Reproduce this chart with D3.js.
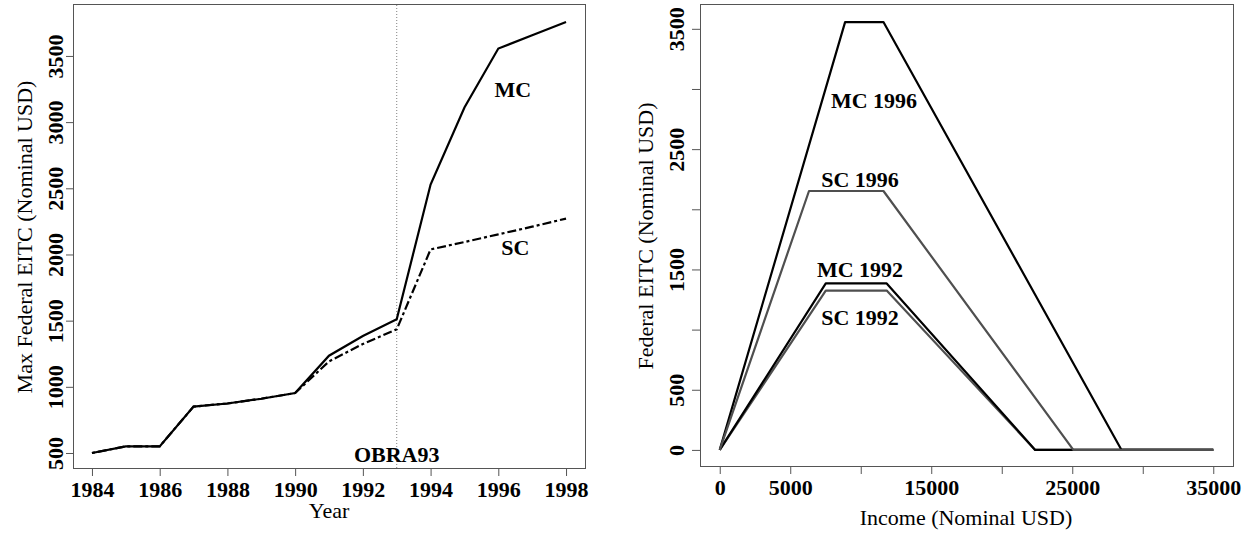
<!DOCTYPE html>
<html>
<head>
<meta charset="utf-8">
<script src="https://cdn.jsdelivr.net/npm/d3@7"></script>
<style>
  body { margin: 0; background: #fff; }
  svg text { font-family: "Liberation Serif", "Times New Roman", serif; fill: #000; }
  .tickLab { font-size: 22px; font-weight: bold; }
  .axTitle { font-size: 22px; }
  .note { font-size: 22px; font-weight: bold; }
</style>
</head>
<body>
<div id="chart"></div>
<script>
// Left panel: maximum credit by year
var years = [1984, 1985, 1986, 1987, 1988, 1989, 1990, 1991, 1992, 1993, 1994, 1995, 1996, 1997, 1998];
var mcMax = [500, 550, 550, 851, 874, 910, 953, 1235, 1384, 1511, 2528, 3110, 3556, 3656, 3756];
var scMax = [500, 550, 550, 851, 874, 910, 953, 1192, 1324, 1434, 2038, 2094, 2152, 2210, 2271];
var obraYear = 1993;
var yearTicks = [1984, 1986, 1988, 1990, 1992, 1994, 1996, 1998];
var leftYTicks = [500, 1000, 1500, 2000, 2500, 3000, 3500];

// Right panel: credit schedules (kink points)
var mc1996Income = [0, 8890, 11610, 28495, 35000];
var mc1996Credit = [0, 3556, 3556, 0, 0];
var sc1996Income = [0, 6330, 11610, 25078, 35000];
var sc1996Credit = [0, 2152, 2152, 0, 0];
var mc1992Income = [0, 7520, 11840, 22370, 35000];
var mc1992Credit = [0, 1384, 1384, 0, 0];
var sc1992Income = [0, 7520, 11840, 22370, 35000];
var sc1992Credit = [0, 1324, 1324, 0, 0];
var incomeTicks = [0, 5000, 10000, 15000, 20000, 25000, 30000, 35000];
var incomeLabels = [0, 5000, 15000, 25000, 35000];
var rightYTicks = [0, 500, 1000, 1500, 2000, 2500, 3000, 3500];
var rightYLabels = [0, 500, 1500, 2500, 3500];

var svg = d3.select("#chart")
  .append("svg")
  .attr("width", 1253)
  .attr("height", 533);

var black = "#000";
var grey = "#4f4f4f";

function zip(xs, ys) {
  return xs.map(function(x, i) { return [x, ys[i]]; });
}

// ---------- left panel ----------
var xL = d3.scaleLinear().domain([1983.44, 1998.56]).range([73, 585]);
var yL = d3.scaleLinear().domain([379, 3885]).range([469, 5]);

var lineL = d3.line().x(d => xL(d[0])).y(d => yL(d[1]));

svg.append("line")
  .attr("x1", xL(obraYear)).attr("x2", xL(obraYear))
  .attr("y1", 5).attr("y2", 469)
  .attr("stroke", "#808080")
  .attr("stroke-width", 1)
  .attr("stroke-dasharray", "1,2");

svg.append("path")
  .datum(zip(years, scMax))
  .attr("d", lineL)
  .attr("fill", "none")
  .attr("stroke", black)
  .attr("stroke-width", 2.2)
  .attr("stroke-dasharray", "3,3,9,3");

svg.append("path")
  .datum(zip(years, mcMax))
  .attr("d", lineL)
  .attr("fill", "none")
  .attr("stroke", black)
  .attr("stroke-width", 2.2);

svg.append("rect")
  .attr("x", 73.5).attr("y", 4.5)
  .attr("width", 512).attr("height", 464)
  .attr("fill", "none")
  .attr("stroke", "#555");

var xAxisL = svg.append("g")
  .attr("transform", "translate(0,469)")
  .call(d3.axisBottom(xL).tickValues(yearTicks).tickSize(7).tickSizeOuter(0).tickFormat(d3.format("d")));
styleAxis(xAxisL);
xAxisL.selectAll("text").attr("y", 28).attr("dy", 0);

var yAxisL = svg.append("g")
  .attr("transform", "translate(73,0)")
  .call(d3.axisLeft(yL).tickValues(leftYTicks).tickSize(7).tickSizeOuter(0).tickFormat(d3.format("d")));
styleAxis(yAxisL);
rotateLabels(yAxisL, -10);

svg.append("text").attr("class", "axTitle")
  .attr("x", 329).attr("y", 518)
  .attr("text-anchor", "middle")
  .text("Year");

svg.append("text").attr("class", "axTitle")
  .attr("transform", "translate(32,237) rotate(-90)")
  .attr("text-anchor", "middle")
  .text("Max Federal EITC (Nominal USD)");

var leftNotes = [
  { t: "MC", x: 1996.43, y: 3190 },
  { t: "SC", x: 1996.5, y: 1996 },
  { t: "OBRA93", x: 1993, y: 432 }
];
svg.selectAll(".noteL")
  .data(leftNotes)
  .enter()
  .append("text")
  .attr("class", "note")
  .attr("x", d => xL(d.x))
  .attr("y", d => yL(d.y))
  .attr("text-anchor", "middle")
  .text(d => d.t);

// ---------- right panel ----------
var xR = d3.scaleLinear().domain([-1400, 36400]).range([700, 1233]);
var yR = d3.scaleLinear().domain([-142, 3698]).range([467, 5]);

var lineR = d3.line().x(d => xR(d[0])).y(d => yR(d[1]));

var schedules = [
  { name: "SC 1992", pts: zip(sc1992Income, sc1992Credit), color: grey },
  { name: "MC 1992", pts: zip(mc1992Income, mc1992Credit), color: black },
  { name: "MC 1996", pts: zip(mc1996Income, mc1996Credit), color: black },
  { name: "SC 1996", pts: zip(sc1996Income, sc1996Credit), color: grey }
];

svg.selectAll(".sched")
  .data(schedules)
  .enter()
  .append("path")
  .attr("class", "sched")
  .attr("d", d => lineR(d.pts))
  .attr("fill", "none")
  .attr("stroke", d => d.color)
  .attr("stroke-width", 2.2)
  .attr("stroke-linejoin", "round");

svg.append("rect")
  .attr("x", 700.5).attr("y", 4.5)
  .attr("width", 533).attr("height", 462)
  .attr("fill", "none")
  .attr("stroke", "#555");

var xAxisR = svg.append("g")
  .attr("transform", "translate(0,467)")
  .call(d3.axisBottom(xR).tickValues(incomeTicks).tickSize(7).tickSizeOuter(0)
    .tickFormat(d => incomeLabels.indexOf(d) >= 0 ? d3.format("d")(d) : ""));
styleAxis(xAxisR);
xAxisR.selectAll("text").attr("y", 28).attr("dy", 0);

var yAxisR = svg.append("g")
  .attr("transform", "translate(700,0)")
  .call(d3.axisLeft(yR).tickValues(rightYTicks).tickSize(8).tickSizeOuter(0)
    .tickFormat(d => rightYLabels.indexOf(d) >= 0 ? d3.format("d")(d) : ""));
styleAxis(yAxisR);
rotateLabels(yAxisR, -16);

svg.append("text").attr("class", "axTitle")
  .attr("x", 966).attr("y", 525)
  .attr("text-anchor", "middle")
  .text("Income (Nominal USD)");

svg.append("text").attr("class", "axTitle")
  .attr("transform", "translate(653,236) rotate(-90)")
  .attr("text-anchor", "middle")
  .text("Federal EITC (Nominal USD)");

var rightNotes = [
  { t: "MC 1996", x: 10940, y: 2842 },
  { t: "SC 1996", x: 9947, y: 2185 },
  { t: "MC 1992", x: 9947, y: 1437 },
  { t: "SC 1992", x: 9947, y: 1038 }
];
svg.selectAll(".noteR")
  .data(rightNotes)
  .enter()
  .append("text")
  .attr("class", "note")
  .attr("x", d => xR(d.x))
  .attr("y", d => yR(d.y))
  .attr("text-anchor", "middle")
  .text(d => d.t);

function styleAxis(g) {
  g.select(".domain").remove();
  g.selectAll(".tick line").attr("stroke", "#555");
  g.selectAll("text")
    .attr("class", "tickLab")
    .attr("fill", "#000")
    .style("font-family", null)
    .style("font-size", null);
  g.attr("font-family", null).attr("font-size", null);
}

function rotateLabels(g, off) {
  g.selectAll(".tick text")
    .attr("transform", "rotate(-90)")
    .attr("x", 0)
    .attr("y", off)
    .attr("dy", 0)
    .attr("text-anchor", "middle");
}
</script>
</body>
</html>
